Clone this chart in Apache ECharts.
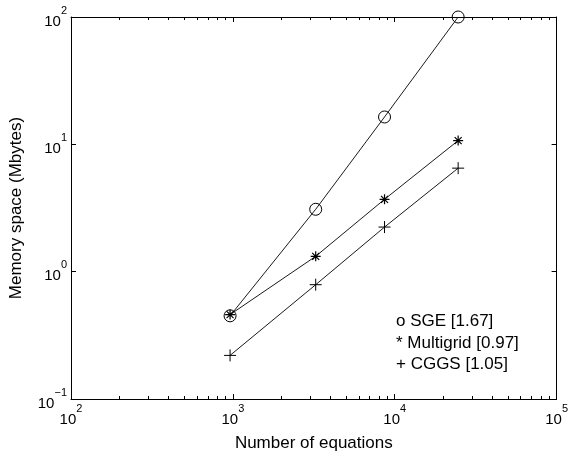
<!DOCTYPE html>
<html>
<head>
<meta charset="utf-8">
<script src="https://cdn.jsdelivr.net/npm/echarts@6/dist/echarts.min.js"></script>
<style>
  html, body { margin: 0; padding: 0; background: #fff; }
  #main { width: 571px; height: 457px; }
</style>
</head>
<body>
<div id="main"></div>
<script>
// values
var equations = [961, 3249, 8649, 24649];
var sgeMem = [0.45, 3.09, 16.4, 100];
var multigridMem = [0.46, 1.32, 3.7, 10.7];
var cggsMem = [0.22, 0.79, 2.24, 6.5];

var noteLines = ['o SGE [1.67]', '* Multigrid [0.97]', '+ CGGS [1.05]'];

var xTickValues = [100, 1000, 10000, 100000];
var xTickExps = ['2', '3', '4', '5'];
var xMinorTicks = [200, 300, 400, 500, 600, 700, 800, 900,
  2000, 3000, 4000, 5000, 6000, 7000, 8000, 9000,
  20000, 30000, 40000, 50000, 60000, 70000, 80000, 90000];
var yTickValues = [0.1, 1, 10, 100];
var yTickExps = ['\u22121', '0', '1', '2'];

var font = 'Liberation Sans, Arial, Helvetica, sans-serif';
var black = '#000';

function pairs(xs, ys) {
  return xs.map(function (x, i) { return [x, ys[i]]; });
}

// 10 with a raised exponent, like matlab does it
function supFormatter(values, exps) {
  return function (v) {
    for (var i = 0; i < values.length; i++) {
      if (Math.abs(Math.log(v) / Math.LN10 - Math.log(values[i]) / Math.LN10) < 1e-6) {
        return '{b|10}{s|' + exps[i] + '}';
      }
    }
    return '';
  };
}
var supRich = {
  b: { fontSize: 15, fontFamily: font, color: black, lineHeight: 24, verticalAlign: 'bottom' },
  s: { fontSize: 11, fontFamily: font, color: black, lineHeight: 24, verticalAlign: 'top' }
};

function logAxis(min, max, position, ticks, tickLen, opts) {
  var ax = {
    type: 'log',
    logBase: 10,
    min: min,
    max: max,
    position: position,
    axisLine: { show: true, onZero: false, lineStyle: { color: black, width: 1 } },
    axisTick: { show: true, inside: true, length: tickLen, customValues: ticks, lineStyle: { color: black, width: 1 } },
    axisLabel: { show: false },
    splitLine: { show: false },
    minorTick: { show: false },
    silent: true
  };
  for (var k in opts) ax[k] = opts[k];
  return ax;
}

var chart = echarts.init(document.getElementById('main'));

var option = {
  backgroundColor: '#fff',
  animation: false,
  grid: { left: 66, right: 14, top: 17, bottom: 53, containLabel: false },
  xAxis: [
    logAxis(100, 100000, 'bottom', xTickValues, 5, {
      name: 'Number of equations',
      nameLocation: 'middle',
      nameGap: 36,
      nameTextStyle: { fontSize: 17, fontFamily: font, color: black },
      axisLabel: { show: true, customValues: xTickValues, margin: 4, formatter: supFormatter(xTickValues, xTickExps), rich: supRich }
    }),
    logAxis(100, 100000, 'bottom', xMinorTicks, 3, { axisLine: { show: false } }),
    logAxis(100, 100000, 'top', xTickValues, 5, {}),
    logAxis(100, 100000, 'top', xMinorTicks, 3, { axisLine: { show: false } })
  ],
  yAxis: [
    logAxis(0.1, 100, 'left', yTickValues, 5, {
      name: 'Memory space (Mbytes)',
      nameLocation: 'middle',
      nameGap: 46,
      nameRotate: 90,
      nameTextStyle: { fontSize: 17, fontFamily: font, color: black },
      axisLabel: { show: true, customValues: yTickValues, margin: 4, formatter: supFormatter(yTickValues, yTickExps), rich: supRich }
    }),
    logAxis(0.1, 100, 'right', yTickValues, 5, {})
  ],
  graphic: noteLines.map(function (t, i) {
    return {
      type: 'text',
      left: 396,
      top: 313 + i * 21.5,
      silent: true,
      style: { text: t, font: '17px ' + font, fill: black }
    };
  }),
  series: [
    {
      name: 'SGE',
      type: 'line',
      data: pairs(equations, sgeMem),
      symbol: 'circle',
      symbolSize: 12,
      itemStyle: { color: 'transparent', borderColor: black, borderWidth: 1 },
      lineStyle: { color: black, width: 0.9 },
      emphasis: { disabled: true }
    },
    {
      name: 'Multigrid',
      type: 'line',
      data: pairs(equations, multigridMem),
      symbol: 'path://M5,0L5,10M0,5L10,5M1.5,1.5L8.5,8.5M1.5,8.5L8.5,1.5',
      symbolSize: 10,
      itemStyle: { color: 'transparent', borderColor: black, borderWidth: 1.2 },
      lineStyle: { color: black, width: 0.9 },
      emphasis: { disabled: true }
    },
    {
      name: 'CGGS',
      type: 'line',
      data: pairs(equations, cggsMem),
      symbol: 'path://M5,0L5,10M0,5L10,5',
      symbolSize: 12,
      itemStyle: { color: 'transparent', borderColor: black, borderWidth: 1 },
      lineStyle: { color: black, width: 0.9 },
      emphasis: { disabled: true }
    }
  ]
};

chart.setOption(option);
window.onresize = function () {
  chart.resize();
};
</script>
</body>
</html>
